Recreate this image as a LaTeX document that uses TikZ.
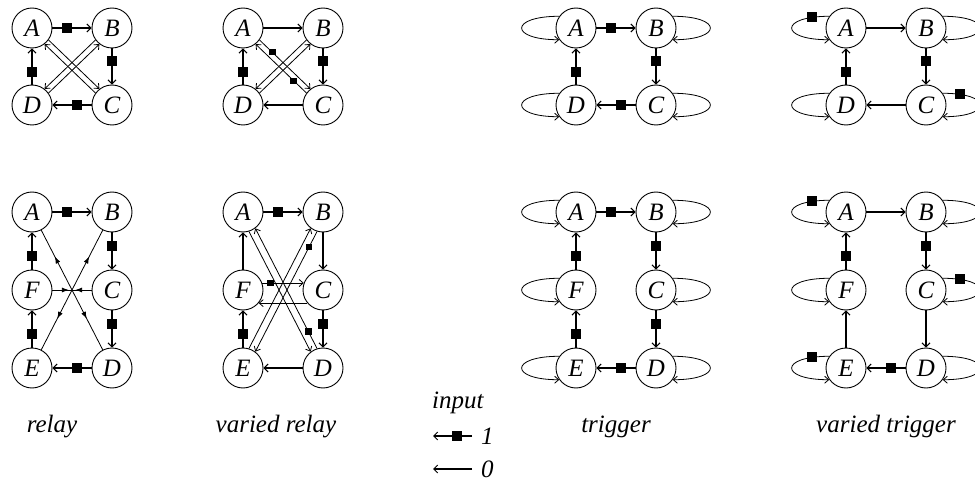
\documentclass[tikz,border=0pt]{standalone}
\usepackage{fontspec}
\setmainfont{Liberation Serif}
\usetikzlibrary{arrows.meta,decorations.markings}
\newcommand\myLoopL[2]{\draw[tn] (#1.145) .. controls +(-50pt,0pt) and +(-50pt,0pt) .. #2 (#1.215);}
\newcommand\myLoopR[2]{\draw[tn] (#1.35) .. controls +(50pt,0pt) and +(50pt,0pt) .. #2 (#1.-35);}
\begin{document}
\begin{tikzpicture}[x=1pt,y=-1pt,
  st/.style={circle,draw,line width=0.9pt,minimum size=40pt,inner sep=0pt,font=\fontsize{25}{25}\selectfont\itshape},
  tk/.style={line width=1.6pt,-{Straight Barb[length=4pt,width=8pt,line width=1pt]}},
  tn/.style={line width=0.8pt,-{Straight Barb[length=4pt,width=7pt,line width=0.8pt]}},
  sq/.style={fill=black,inner sep=0pt,minimum size=10pt},
  sqs/.style={fill=black,inner sep=0pt,minimum size=6.5pt},
  lab/.style={font=\fontsize{25}{25}\selectfont\itshape,anchor=base},
  outward/.style n args={2}{line width=0.8pt,postaction={decorate,decoration={markings,
    mark=at position #1 with {\arrowreversed{Latex[length=7pt,width=5pt]}},
    mark=at position #2 with {\arrow{Latex[length=7pt,width=5pt]}}}}},
  inward/.style n args={2}{line width=0.8pt,postaction={decorate,decoration={markings,
    mark=at position #1 with {\arrow{Latex[length=7pt,width=5pt]}},
    mark=at position #2 with {\arrowreversed{Latex[length=7pt,width=5pt]}}}}},
]
\useasboundingbox (0,0) rectangle (975,484);

% ---------- relay (top) ----------
\node[st] (pA) at (32,28) {A};
\node[st] (pB) at (112,28) {B};
\node[st] (pC) at (112,105) {C};
\node[st] (pD) at (32,105) {D};
\draw[tk] (pA) -- node[sq,pos=.36]{} (pB);
\draw[tk] (pB) -- node[sq,pos=.36]{} (pC);
\draw[tk] (pC) -- node[sq,pos=.36]{} (pD);
\draw[tk] (pD) -- node[sq,pos=.36]{} (pA);
\draw[tn] (pA.-36) -- (pC.128);
\draw[tn] (pC.144) -- (pA.-52);
\draw[tn] (pB.216) -- (pD.52);
\draw[tn] (pD.36) -- (pB.232);

% ---------- varied relay (top) ----------
\node[st] (vrA) at (243,28) {A};
\node[st] (vrB) at (323,28) {B};
\node[st] (vrC) at (323,105) {C};
\node[st] (vrD) at (243,105) {D};
\draw[tk] (vrA) -- (vrB);
\draw[tk] (vrB) -- node[sq,pos=.36]{} (vrC);
\draw[tk] (vrC) -- (vrD);
\draw[tk] (vrD) -- node[sq,pos=.36]{} (vrA);
\draw[tn] (vrA.-36) -- node[sqs,pos=.25]{} (vrC.128);
\draw[tn] (vrC.144) -- node[sqs,pos=.25]{} (vrA.-52);
\draw[tn] (vrB.216) -- (vrD.52);
\draw[tn] (vrD.36) -- (vrB.232);

% ---------- relay (bottom) ----------
\node[st] (qA) at (32,212) {A};
\node[st] (qB) at (112,212) {B};
\node[st] (qC) at (112,290) {C};
\node[st] (qD) at (112,368) {D};
\node[st] (qE) at (32,368) {E};
\node[st] (qF) at (32,290) {F};
\draw[tk] (qA) -- node[sq,pos=.36]{} (qB);
\draw[tk] (qB) -- node[sq,pos=.36]{} (qC);
\draw[tk] (qC) -- node[sq,pos=.36]{} (qD);
\draw[tk] (qD) -- node[sq,pos=.36]{} (qE);
\draw[tk] (qE) -- node[sq,pos=.36]{} (qF);
\draw[tk] (qF) -- node[sq,pos=.36]{} (qA);
\draw[outward={.22}{.74}] (qA.-63) -- (qD.117);
\draw[outward={.22}{.74}] (qB.243) -- (qE.63);
\draw[inward={.42}{.58}] (qF.east) -- (qC.west);

% ---------- varied relay (bottom) ----------
\node[st] (wA) at (243,212) {A};
\node[st] (wB) at (323,212) {B};
\node[st] (wC) at (323,290) {C};
\node[st] (wD) at (323,368) {D};
\node[st] (wE) at (243,368) {E};
\node[st] (wF) at (243,290) {F};
\draw[tk] (wA) -- node[sq,pos=.36]{} (wB);
\draw[tk] (wB) -- (wC);
\draw[tk] (wC) -- node[sq,pos=.36]{} (wD);
\draw[tk] (wD) -- (wE);
\draw[tk] (wE) -- node[sq,pos=.36]{} (wF);
\draw[tk] (wF) -- (wA);
\draw[tn] (wA.-73) -- (wD.127);
\draw[tn] (wD.107) -- node[sqs,pos=.14]{} (wA.-53);
\draw[tn] (wB.253) -- node[sqs,pos=.13]{} (wE.53);
\draw[tn] (wE.73) -- (wB.233);
\draw[tn] (wF.20) -- node[sqs,pos=.2]{} (wC.160);
\draw[tn] (wC.220) -- (wF.-40);

% ---------- trigger (top) ----------
\node[st] (tA) at (576,28) {A};
\node[st] (tB) at (656,28) {B};
\node[st] (tC) at (656,105) {C};
\node[st] (tD) at (576,105) {D};
\draw[tk] (tA) -- node[sq,pos=.36]{} (tB);
\draw[tk] (tB) -- node[sq,pos=.36]{} (tC);
\draw[tk] (tC) -- node[sq,pos=.36]{} (tD);
\draw[tk] (tD) -- node[sq,pos=.36]{} (tA);
\myLoopL{tA}{}
\myLoopL{tD}{}
\myLoopR{tB}{}
\myLoopR{tC}{}

% ---------- varied trigger (top) ----------
\node[st] (vA) at (846,28) {A};
\node[st] (vB) at (926,28) {B};
\node[st] (vC) at (926,105) {C};
\node[st] (vD) at (846,105) {D};
\draw[tk] (vA) -- (vB);
\draw[tk] (vB) -- node[sq,pos=.36]{} (vC);
\draw[tk] (vC) -- (vD);
\draw[tk] (vD) -- node[sq,pos=.36]{} (vA);
\myLoopL{vA}{node[sq,pos=.13]{}}
\myLoopL{vD}{}
\myLoopR{vB}{}
\myLoopR{vC}{node[sq,pos=.13]{}}

% ---------- trigger (bottom) ----------
\node[st] (uA) at (576,212) {A};
\node[st] (uB) at (656,212) {B};
\node[st] (uC) at (656,290) {C};
\node[st] (uD) at (656,368) {D};
\node[st] (uE) at (576,368) {E};
\node[st] (uF) at (576,290) {F};
\draw[tk] (uA) -- node[sq,pos=.36]{} (uB);
\draw[tk] (uB) -- node[sq,pos=.36]{} (uC);
\draw[tk] (uC) -- node[sq,pos=.36]{} (uD);
\draw[tk] (uD) -- node[sq,pos=.36]{} (uE);
\draw[tk] (uE) -- node[sq,pos=.36]{} (uF);
\draw[tk] (uF) -- node[sq,pos=.36]{} (uA);
\myLoopL{uA}{}
\myLoopL{uF}{}
\myLoopL{uE}{}
\myLoopR{uB}{}
\myLoopR{uC}{}
\myLoopR{uD}{}

% ---------- varied trigger (bottom) ----------
\node[st] (xA) at (846,212) {A};
\node[st] (xB) at (926,212) {B};
\node[st] (xC) at (926,290) {C};
\node[st] (xD) at (926,368) {D};
\node[st] (xE) at (846,368) {E};
\node[st] (xF) at (846,290) {F};
\draw[tk] (xA) -- (xB);
\draw[tk] (xB) -- node[sq,pos=.36]{} (xC);
\draw[tk] (xC) -- (xD);
\draw[tk] (xD) -- node[sq,pos=.36]{} (xE);
\draw[tk] (xE) -- (xF);
\draw[tk] (xF) -- node[sq,pos=.36]{} (xA);
\myLoopL{xA}{node[sq,pos=.13]{}}
\myLoopL{xF}{}
\myLoopL{xE}{node[sq,pos=.13]{}}
\myLoopR{xB}{}
\myLoopR{xC}{node[sq,pos=.13]{}}
\myLoopR{xD}{}

% ---------- labels ----------
\node[lab] (l1) at (52,432) {relay};
\node[lab] (l2) at (276,432) {varied relay};
\node[lab] (l3) at (616,432) {trigger};
\node[lab] (l4) at (886,432) {varied trigger};

% ---------- legend ----------
\node[lab,anchor=base west,inner sep=0pt] (inp) at (432,408) {input};
\coordinate (o1s) at (472,436);
\coordinate (o1e) at (433,436);
\draw[tk] (o1s) -- node[sq,pos=.38]{} (o1e);
\node[lab,anchor=base west,inner sep=0pt] (one) at (481,444) {1};
\coordinate (o0s) at (472,469);
\coordinate (o0e) at (433,469);
\draw[tk] (o0s) -- (o0e);
\node[lab,anchor=base west,inner sep=0pt] (zero) at (481,477) {0};
\end{tikzpicture}
\end{document}
